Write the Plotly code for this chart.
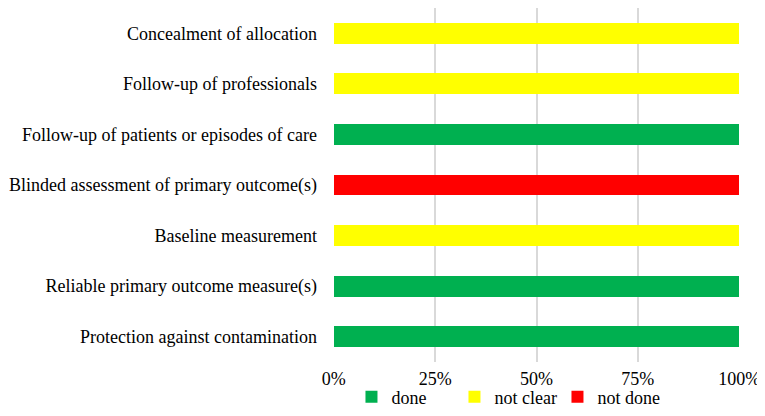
import plotly.graph_objects as go

categories = [
    "Protection against contamination",
    "Reliable primary outcome measure(s)",
    "Baseline measurement",
    "Blinded assessment of primary outcome(s)",
    "Follow-up of patients or episodes of care",
    "Follow-up of professionals",
    "Concealment of allocation",
]
done = [100, 100, 0, 0, 100, 0, 0]
not_clear = [0, 0, 100, 0, 0, 100, 100]
not_done = [0, 0, 0, 100, 0, 0, 0]
tick_vals = [0, 25, 50, 75, 100]
tick_text = ["0%", "25%", "50%", "75%", "100%"]

fig = go.Figure()
for name, vals, color in [("done", done, "#00B050"),
                          ("not clear", not_clear, "#FFFF00"),
                          ("not done", not_done, "#FF0000")]:
    fig.add_trace(go.Bar(y=categories, x=vals, name=name, orientation="h",
                         marker=dict(color=color, line=dict(width=0))))

# page body adds an 8px margin, so the figure is drawn a bit smaller
fig.update_layout(
    barmode="stack",
    bargap=0.59,
    width=757, height=400,
    margin=dict(l=325, r=25, t=0, b=46, autoexpand=False),
    plot_bgcolor="white", paper_bgcolor="white",
    font=dict(family="Liberation Serif", size=18, color="black"),
    xaxis=dict(range=[-0.2, 100.2], tickvals=tick_vals, ticktext=tick_text,
               showgrid=True, gridcolor="#D9D9D9", gridwidth=1.5,
               zeroline=False, showline=False, ticks="",
               ticklabelstandoff=4, ticklabeloverflow="allow"),
    yaxis=dict(showgrid=False, zeroline=False, ticks="",
               ticklabelstandoff=15),
    legend=dict(orientation="h", x=0.425, xanchor="center", y=-0.099,
                yanchor="middle", font=dict(size=18), traceorder="normal",
                entrywidth=58, itemwidth=30, bgcolor="rgba(0,0,0,0)"),
)

fig.write_html("out.html")
